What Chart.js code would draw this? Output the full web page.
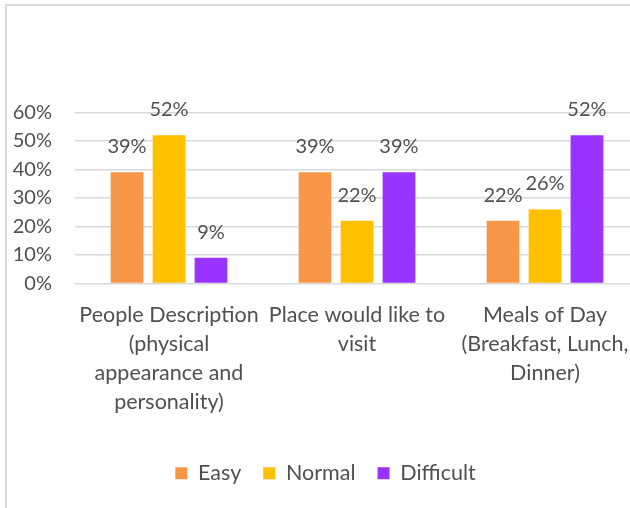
<!DOCTYPE html>
<html>
<head>
<meta charset="utf-8">
<script src="https://cdn.jsdelivr.net/npm/chart.js@4"></script>
<style>
  body { margin: 0; background: #fff; overflow: hidden; width: 630px; height: 508px; position: relative; }
  .frame { position: absolute; left: 5px; top: 4px; width: 700px; height: 600px; border: 2px solid #d9d9d9; box-sizing: border-box; }
  #chart { position: absolute; left: 0; top: 0; }
</style>
</head>
<body>
<div class="frame"></div>
<canvas id="chart" width="660" height="508"></canvas>
<script>
// Data
const categories = [
  ['People Description', '(physical', 'appearance and', 'personality)'],
  ['Place would like to', 'visit'],
  ['Meals of Day', '(Breakfast, Lunch,', 'Dinner)']
];
const easy = [39, 39, 22];
const normal = [52, 22, 26];
const difficult = [9, 39, 52];
const yTicks = [0, 10, 20, 30, 40, 50, 60];

const textColor = '#505050';
const fontFamily = 'Lato, "Open Sans", sans-serif';

// draws value labels above each bar
const barLabels = {
  id: 'barLabels',
  afterDatasetsDraw(chart) {
    const ctx = chart.ctx;
    ctx.save();
    ctx.font = '20px ' + fontFamily;
    ctx.fillStyle = textColor;
    ctx.textAlign = 'center';
    ctx.textBaseline = 'alphabetic';
    chart.data.datasets.forEach((ds, i) => {
      chart.getDatasetMeta(i).data.forEach((bar, j) => {
        ctx.fillText(ds.data[j] + '%', bar.x, bar.y - 19);
      });
    });
    ctx.restore();
  }
};

new Chart(document.getElementById('chart'), {
  type: 'bar',
  data: {
    labels: categories,
    datasets: [
      { label: 'Easy', data: easy, backgroundColor: '#F79646' },
      { label: 'Normal', data: normal, backgroundColor: '#FFC000' },
      { label: 'Difficult', data: difficult, backgroundColor: '#9933FF' }
    ]
  },
  options: {
    responsive: false,
    animation: false,
    devicePixelRatio: 1,
    categoryPercentage: 0.67,
    barPercentage: 0.78,
    layout: { padding: { top: 112.5, right: 21, left: 12, bottom: 14 } },
    plugins: {
      tooltip: { enabled: false },
      legend: {
        position: 'bottom',
        labels: {
          boxWidth: 12,
          boxHeight: 12,
          padding: 22,
          color: textColor,
          font: { family: fontFamily, size: 21.5 }
        }
      }
    },
    scales: {
      x: {
        grid: { display: false },
        border: { display: false },
        ticks: {
          color: textColor,
          autoSkip: false,
          maxRotation: 0,
          padding: 9,
          font: { family: fontFamily, size: 21.5, lineHeight: 1.35 }
        },
        afterFit(scale) { scale.height = 157; }
      },
      y: {
        min: 0,
        max: 60,
        afterBuildTicks(scale) { scale.ticks = yTicks.map(v => ({ value: v })); },
        grid: { color: '#d9d9d9', lineWidth: 1.5, drawTicks: false },
        border: { display: false },
        ticks: {
          color: textColor,
          padding: 23,
          font: { family: fontFamily, size: 20 },
          callback: v => v + '%'
        },
        afterFit(scale) { scale.width = 63; }
      }
    }
  },
  plugins: [barLabels]
});
</script>
</body>
</html>
